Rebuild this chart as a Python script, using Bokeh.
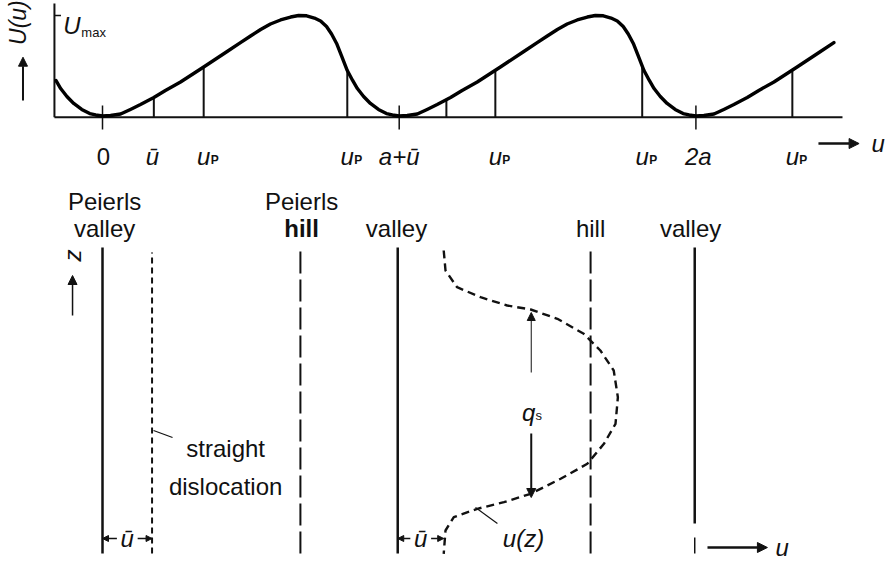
import numpy as np
from bokeh.plotting import figure
from bokeh.layouts import column
from bokeh.models import Range1d, Arrow, NormalHead
from bokeh.core.properties import value
from bokeh.embed import file_html
from bokeh.resources import INLINE

# ---------------- data (u in units of a, U in units of U_max, z in arbitrary units)
# one period of the (asymmetric) Peierls potential
period_u = [0.000, 0.027, 0.061, 0.094, 0.128, 0.173, 0.212, 0.263, 0.341, 0.420,
            0.465, 0.499, 0.533, 0.566, 0.600, 0.634, 0.661, 0.688, 0.714, 0.735,
            0.755, 0.772, 0.789, 0.805, 0.825, 0.843, 0.859, 0.880, 0.903, 0.930,
            0.957, 0.977]
period_U = [0.012, 0.017, 0.031, 0.076, 0.125, 0.194, 0.263, 0.346, 0.494, 0.646,
            0.734, 0.798, 0.862, 0.916, 0.956, 0.985, 1.000, 0.997, 0.975, 0.946,
            0.892, 0.818, 0.725, 0.607, 0.459, 0.361, 0.282, 0.204, 0.135, 0.076,
            0.036, 0.022]
curve_start_u, curve_end_u = -0.162, 2.47

marker_u = [0.173, 0.341, 0.825, 1.159, 1.324, 1.819, 2.325]
valley_u = [0.0, 1.0, 2.0]

tick_text = ["ū", "a+ū", "2a"]
tick_text_u = [0.168, 1.0, 2.008]
zero_text_u = 0.003
uP_u = [0.341, 0.825, 1.324, 1.819, 2.325]

axis_u = -0.162          # position of the U axis
axis_end_u = 2.494       # end of the u axis line
U_top = 1.118

# bottom panel: dislocation lines
valley_line_u = [0.0, 0.995]
valley3_u = 1.996
hill_line_u = [0.667, 1.645]
straight_u = 0.167
line_z_top = 3.08
line_z_bot = 0.02

uz_u = [1.150, 1.156, 1.195, 1.274, 1.364, 1.443, 1.533, 1.622, 1.678, 1.723,
        1.737, 1.729, 1.690, 1.634, 1.544, 1.443, 1.353, 1.263, 1.184, 1.156, 1.150]
uz_z = [3.05, 2.85, 2.683, 2.583, 2.50, 2.46, 2.367, 2.217, 2.05, 1.85,
        1.583, 1.317, 1.117, 0.917, 0.767, 0.617, 0.533, 0.467, 0.383, 0.25, 0.017]

label_row1 = ["Peierls", "Peierls"]
label_row1_u = [0.007, 0.671]
label_row2 = ["valley", "hill", "valley", "hill", "valley"]
label_row2_u = [0.007, 0.671, 0.991, 1.645, 1.982]
label_row2_bold = [False, True, False, False, False]

FONT = value("Liberation Sans")
FS = "24px"
INK = "#111111"

# U(u) is periodic with period a: repeat the period over the drawn interval
pu = np.array(period_u)
pU = np.array(period_U)
u_all = np.concatenate([pu + k for k in (-1, 0, 1, 2)])
U_all = np.concatenate([pU for k in (-1, 0, 1, 2)])
keep = (u_all >= curve_start_u) & (u_all <= curve_end_u)
u_curve = u_all[keep]
U_curve = U_all[keep]
marker_U = np.interp(marker_u, u_curve, U_curve)

W = 891
H_TOP = 170
H_BOT = 395
xr = Range1d(-0.3438, 2.6592)

# ---------------- top panel: U(u)
top = figure(width=W, height=H_TOP, x_range=xr, y_range=Range1d(-0.5241, 1.1475),
             output_backend="svg", toolbar_location=None, min_border=0,
             x_axis_location=None, y_axis_location=None)
top.grid.visible = False
top.outline_line_color = None

# axes
top.segment(x0=[axis_u, axis_u], y0=[0, 0], x1=[axis_end_u, axis_u], y1=[0, U_top],
            line_color=INK, line_width=2)
top.segment(x0=[axis_u], y0=[1.0], x1=[axis_u + 0.022], y1=[1.0], line_color=INK, line_width=1.5)
# valley ticks
top.segment(x0=valley_u, y0=[0.115] * 3, x1=valley_u, y1=[-0.12] * 3, line_color=INK, line_width=1.5)
# markers
top.segment(x0=marker_u, y0=[0] * len(marker_u), x1=marker_u, y1=marker_U, line_color=INK, line_width=2)
# curve
top.line(u_curve, U_curve, line_color="black", line_width=3.4, line_join="round", line_cap="round")

# tick labels
yb = -0.385
top.text(x=[zero_text_u], y=[yb], text=["0"], text_font=FONT, text_font_size=FS,
         text_align="center", text_baseline="alphabetic", text_color=INK)
top.text(x=tick_text_u, y=[yb] * len(tick_text), text=tick_text, text_font=FONT, text_font_size=FS,
         text_font_style="italic", text_align="center", text_baseline="alphabetic", text_color=INK)
top.text(x=uP_u, y=[yb] * len(uP_u), text=["u"] * len(uP_u), text_font=FONT, text_font_size=FS,
         text_font_style="italic", text_align="center", text_baseline="alphabetic", text_color=INK)
top.text(x=uP_u, y=[yb] * len(uP_u), text=["P"] * len(uP_u), text_font=FONT, text_font_size="12px",
         text_font_style="bold", text_align="left", text_baseline="alphabetic", text_color=INK,
         x_offset=7, y_offset=4)

# U_max
top.text(x=[axis_u + 0.03], y=[0.90], text=["U"], text_font=FONT, text_font_size=FS,
         text_font_style="italic", text_baseline="alphabetic", text_color=INK)
top.text(x=[axis_u + 0.03], y=[0.90], text=["max"], text_font=FONT, text_font_size="13px",
         text_baseline="alphabetic", text_color=INK, x_offset=18, y_offset=7)
# U(u) rotated label + arrow
top.text(x=[-0.2865], y=[0.93], text=["U(u)"], text_font=FONT, text_font_size="23px",
         text_font_style="italic", text_align="center", text_baseline="middle", angle=np.pi / 2,
         text_color=INK)
top.add_layout(Arrow(end=NormalHead(size=9, fill_color=INK, line_color=INK),
                     x_start=-0.268, y_start=0.164, x_end=-0.268, y_end=0.59,
                     line_color=INK, line_width=2))
# u-arrow
top.add_layout(Arrow(end=NormalHead(size=10, fill_color=INK, line_color=INK),
                     x_start=2.413, y_start=-0.259, x_end=2.55, y_end=-0.259,
                     line_color=INK, line_width=2.5))
top.text(x=[2.592], y=[-0.259], text=["u"], text_font=FONT, text_font_size=FS,
         text_font_style="italic", text_baseline="middle", text_color=INK)

# ---------------- bottom panel: dislocation line positions
bot = figure(width=W, height=H_BOT, x_range=xr, y_range=Range1d(-0.10, 3.85),
             output_backend="svg", toolbar_location=None, min_border=0,
             x_axis_location=None, y_axis_location=None)
bot.grid.visible = False
bot.outline_line_color = None

bot.text(x=label_row1_u, y=[3.54] * 2, text=label_row1, text_font=FONT, text_font_size=FS,
         text_align="center", text_baseline="alphabetic", text_color=INK)
for lu, lt, lb in zip(label_row2_u, label_row2, label_row2_bold):
    bot.text(x=[lu], y=[3.27], text=[lt], text_font=FONT, text_font_size=FS,
             text_font_style="bold" if lb else "normal",
             text_align="center", text_baseline="alphabetic", text_color=INK)

bot.segment(x0=valley_line_u, y0=[line_z_bot] * 2, x1=valley_line_u, y1=[line_z_top] * 2,
            line_color=INK, line_width=2.5)
bot.segment(x0=[valley3_u], y0=[0.32], x1=[valley3_u], y1=[line_z_top], line_color=INK, line_width=2.5)
bot.segment(x0=[valley3_u], y0=[line_z_bot], x1=[valley3_u], y1=[0.18], line_color=INK, line_width=1.5)
bot.segment(x0=hill_line_u, y0=[line_z_bot] * 2, x1=hill_line_u, y1=[line_z_top] * 2,
            line_color=INK, line_width=2, line_dash="22 6")
bot.segment(x0=[straight_u], y0=[line_z_bot], x1=[straight_u], y1=[3.03],
            line_color=INK, line_width=2, line_dash="6 4")
bot.line(uz_u, uz_z, line_color=INK, line_width=2.4, line_dash="8 5")

# z label + arrow
bot.text(x=[-0.101], y=[3.0], text=["z"], text_font=FONT, text_font_size=FS,
         text_font_style="italic", text_align="center", text_baseline="middle", angle=np.pi / 2,
         text_color=INK)
bot.add_layout(Arrow(end=NormalHead(size=9, fill_color=INK, line_color=INK),
                     x_start=-0.101, y_start=2.40, x_end=-0.101, y_end=2.80,
                     line_color=INK, line_width=1.5))

# straight dislocation label
bot.text(x=[0.415, 0.415], y=[1.07, 0.69], text=["straight", "dislocation"], text_font=FONT,
         text_font_size=FS, text_align="center", text_baseline="alphabetic", text_color=INK)
bot.segment(x0=[0.172], y0=[1.25], x1=[0.236], y1=[1.18], line_color=INK, line_width=1.2)

# q_s arrows and label
bot.add_layout(Arrow(end=NormalHead(size=8, fill_color=INK, line_color=INK),
                     x_start=1.445, y_start=1.83, x_end=1.445, y_end=2.43,
                     line_color=INK, line_width=1))
bot.add_layout(Arrow(end=NormalHead(size=9, fill_color=INK, line_color=INK),
                     x_start=1.445, y_start=1.22, x_end=1.445, y_end=0.58,
                     line_color=INK, line_width=2))
bot.text(x=[1.436], y=[1.43], text=["q"], text_font=FONT, text_font_size=FS,
         text_font_style="italic", text_align="center", text_baseline="alphabetic", text_color=INK)
bot.text(x=[1.436], y=[1.43], text=["s"], text_font=FONT, text_font_size="13px",
         text_align="left", text_baseline="alphabetic", text_color=INK, x_offset=7, y_offset=3)

# u(z) label
bot.text(x=[1.419], y=[0.17], text=["u(z)"], text_font=FONT, text_font_size=FS,
         text_font_style="italic", text_align="center", text_baseline="alphabetic", text_color=INK)
bot.segment(x0=[1.257], y0=[0.48], x1=[1.331], y1=[0.32], line_color=INK, line_width=1.2)

# u-bar dimensions
for ua, ub in [(0.0, 0.167), (0.995, 1.150)]:
    um = 0.5 * (ua + ub)
    bot.add_layout(Arrow(end=NormalHead(size=6, fill_color=INK, line_color=INK),
                         x_start=um - 0.035, y_start=0.17, x_end=ua, y_end=0.17,
                         line_color=INK, line_width=1.4))
    bot.add_layout(Arrow(end=NormalHead(size=6, fill_color=INK, line_color=INK),
                         x_start=um + 0.035, y_start=0.17, x_end=ub, y_end=0.17,
                         line_color=INK, line_width=1.4))
    bot.text(x=[um], y=[0.17], text=["ū"], text_font=FONT, text_font_size=FS,
             text_font_style="italic", text_align="center", text_baseline="middle", text_color=INK)

# u arrow bottom right
bot.add_layout(Arrow(end=NormalHead(size=10, fill_color=INK, line_color=INK),
                     x_start=2.039, y_start=0.08, x_end=2.241, y_end=0.08,
                     line_color=INK, line_width=2.5))
bot.text(x=[2.268], y=[0.08], text=["u"], text_font=FONT, text_font_size=FS,
         text_font_style="italic", text_baseline="middle", text_color=INK)

layout = column(top, bot, spacing=0)
open("out.html", "w").write(file_html(layout, INLINE))
